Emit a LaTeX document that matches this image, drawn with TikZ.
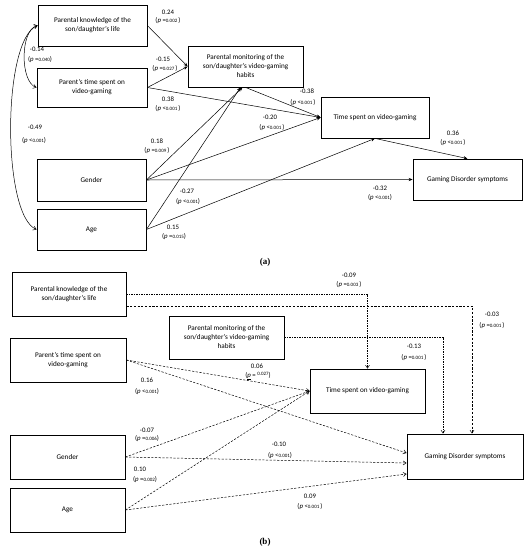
\documentclass[tikz,border=0pt]{standalone}
\usepackage{fontspec}
\setmainfont{Carlito}
\newfontfamily\capfont{Liberation Serif}
\usetikzlibrary{arrows.meta}
\newcommand\pval[2]{(\textit{p} #1{\fontsize{5}{5}\selectfont #2})}
\tikzset{
  box/.style={draw, line width=0.8pt, align=center, font=\fontsize{7.2}{9}\selectfont, inner sep=1pt},
  lbl/.style={font=\fontsize{6.8}{7}\selectfont, inner sep=0pt},
  sol/.style={line width=0.5pt, -{Stealth[length=4pt,width=3.2pt]}},
  dsh/.style={line width=0.5pt, dash pattern=on 2.2pt off 1.5pt, -{Straight Barb[length=3pt,width=4pt]}},
  dot/.style={line width=0.5pt, dash pattern=on 1.2pt off 1.3pt, -{Straight Barb[length=3pt,width=4pt]}},
  captxt/.style={font=\capfont\bfseries\fontsize{9}{10}\selectfont, inner sep=0pt}
}
\begin{document}
\begin{tikzpicture}[x=1pt,y=-1pt]
\useasboundingbox[fill=white] (0,0) rectangle (528,550);
% ---------- panel (a)
\node[box, minimum width=109pt, minimum height=41pt] (aPK) at (92.5,25.5) {Parental knowledge of the\\son/daughter's life};
\node[box, minimum width=110pt, minimum height=39pt] (aPT) at (92,87.5) {Parent's time spent on\\video-gaming};
\node[box, minimum width=115pt, minimum height=41pt] (aPM) at (245.5,66.5) {Parental monitoring of the\\son/daughter's video-gaming\\habits};
\node[box, minimum width=108pt, minimum height=41pt] (aTS) at (375,117.5) {Time spent on video-gaming};
\node[box, minimum width=109pt, minimum height=41pt] (aGD) at (467.5,179.5) {Gaming Disorder symptoms};
\node[box, minimum width=109pt, minimum height=42pt] (aGe) at (91.5,180) {Gender};
\node[box, minimum width=109pt, minimum height=41pt] (aAg) at (91.5,229.5) {Age};
\coordinate (aPMs1) at ([xshift=-3pt]aPM.south);
\coordinate (aPMs2) at ([xshift=-5pt]aPM.south);

\draw[sol] (aPK.east) -- (aPM.west);
\draw[sol] (aPT.east) -- (aPM.west);
\draw[sol] (aPT.east) -- (aTS.west);
\draw[sol] (aPM.south) -- (aTS.west);
\draw[sol] (aGe.east) -- (aPMs1);
\draw[sol] (aAg.east) -- (aPMs2);
\draw[sol] (aGe.east) -- (aTS.west);
\draw[sol] (aGe.east) -- (aGD.west);
\draw[sol] (aAg.east) -- (aTS.south);
\draw[sol] (aTS.south) -- (aGD.north);
\draw[line width=0.5pt, {Straight Barb[length=3pt,width=4pt]}-{Straight Barb[length=3pt,width=4pt]}] (aPK.west) .. controls (20,30) and (20,82) .. (aPT.west);
\draw[line width=0.5pt, {Straight Barb[length=3pt,width=4pt]}-{Straight Barb[length=3pt,width=4pt]}] (aPK.west) .. controls (2,40) and (2,215) .. (aAg.west);

\node[lbl] (la1) at (168,12) {0.24};
\node[lbl] (la1p) at (168,21) {\pval{=}{0.002 }};
\node[lbl] (la2) at (163,59) {-0.15};
\node[lbl] (la2p) at (165,69) {\pval{=}{0.027 }};
\node[lbl] (la3) at (168,99) {0.38};
\node[lbl] (la3p) at (168,109) {\pval{<}{0.001 }};
\node[lbl] (la4) at (307,91) {-0.38};
\node[lbl] (la4p) at (303,103) {\pval{<}{0.001 }};
\node[lbl] (la5) at (270,117) {-0.20};
\node[lbl] (la5p) at (272,128) {\pval{<}{0.001 }};
\node[lbl] (la6) at (157,141) {0.18};
\node[lbl] (la6p) at (157,151) {\pval{=}{0.009 }};
\node[lbl] (la7) at (187,191) {-0.27};
\node[lbl] (la7p) at (188,202) {\pval{<}{0.001}};
\node[lbl] (la8) at (173,227) {0.15};
\node[lbl] (la8p) at (174,237) {\pval{=}{0.015}};
\node[lbl] (la9) at (380,188) {-0.32};
\node[lbl] (la9p) at (380,198) {\pval{<}{0.001}};
\node[lbl] (la10) at (453,133) {0.36};
\node[lbl] (la10p) at (453,143) {\pval{<}{0.001 }};
\node[lbl] (la11) at (37,49) {-0.14};
\node[lbl] (la11p) at (40,60) {\pval{=}{0.040}};
\node[lbl] (la12) at (35,127) {-0.49};
\node[lbl] (la12p) at (34,141) {\pval{<}{0.001}};
\node[captxt] (capa) at (265,262) {(a)};

% ---------- panel (b)
\node[box, minimum width=114pt, minimum height=44pt] (bPK) at (69,294) {Parental knowledge of the\\son/daughter's life};
\node[box, minimum width=115pt, minimum height=43pt] (bPM) at (226.5,337.5) {Parental monitoring of the\\son/daughter's video-gaming\\habits};
\node[box, minimum width=116pt, minimum height=44pt] (bPT) at (68,360) {Parent's time spent on\\video-gaming};
\node[box, minimum width=115pt, minimum height=44pt] (bTS) at (367.5,391) {Time spent on video-gaming};
\node[box, minimum width=116pt, minimum height=45pt] (bGD) at (465,456.5) {Gaming Disorder symptoms};
\node[box, minimum width=115pt, minimum height=44pt] (bGe) at (67.5,457) {Gender};
\node[box, minimum width=115pt, minimum height=44pt] (bAg) at (67.5,510) {Age};
\coordinate (bPKe2) at ([yshift=-12pt]bPK.east);
\coordinate (bGDn1) at ([xshift=-22pt]bGD.north);
\coordinate (bGDn2) at ([xshift=7pt]bGD.north);
\coordinate (bGDw1) at ([yshift=3.5pt]bGD.west);
\coordinate (bGDw2) at ([yshift=-6.5pt]bGD.west);
\coordinate (bGDw3) at ([yshift=-17.5pt]bGD.west);

\draw[dot] (bPK.east) -| (bTS.north);
\draw[dsh] (bPKe2) -| (bGDn2);
\draw[dot] (bPM.east) -| (bGDn1);
\draw[dsh] (bPT.east) -- (bTS.west);
\draw[dsh] (bPT.east) -- (bGDw1);
\draw[dsh] (bGe.east) -- (bTS.west);
\draw[dsh] (bGe.east) -- (bGDw2);
\draw[dsh] (bAg.east) -- (bTS.west);
\draw[dsh] (bAg.east) -- (bGDw3);

\node[lbl] (lb1) at (349,275) {-0.09};
\node[lbl] (lb1p) at (349,285) {\pval{=}{0.003 }};
\node[lbl] (lb2) at (492,314) {-0.03};
\node[lbl] (lb2p) at (492,326) {\pval{=}{0.001 }};
\node[lbl] (lb3) at (414,346) {-0.13};
\node[lbl] (lb3p) at (414,358) {\pval{=}{0.001 }};
\node[lbl] (lb4) at (257,366) {0.06};
\node[lbl] (lb4p) at (258,376) {(\underline{\textit{p}} = \raisebox{2pt}{\fontsize{5}{5}\selectfont 0.027})};
\node[lbl] (lb5) at (147,380) {0.16};
\node[lbl] (lb5p) at (147,392) {\pval{<}{0.001}};
\node[lbl] (lb6) at (147,430) {-0.07};
\node[lbl] (lb6p) at (147,439) {\pval{=}{0.006}};
\node[lbl] (lb7) at (279,444) {-0.10};
\node[lbl] (lb7p) at (280,456) {\pval{<}{0.001}};
\node[lbl] (lb8) at (140,469) {0.10};
\node[lbl] (lb8p) at (145,480) {\pval{=}{0.002}};
\node[lbl] (lb9) at (310,496) {0.09};
\node[lbl] (lb9p) at (310,507) {\pval{<}{0.001 }};
\node[captxt] (capb) at (265,542) {(b)};
\end{tikzpicture}
\end{document}
